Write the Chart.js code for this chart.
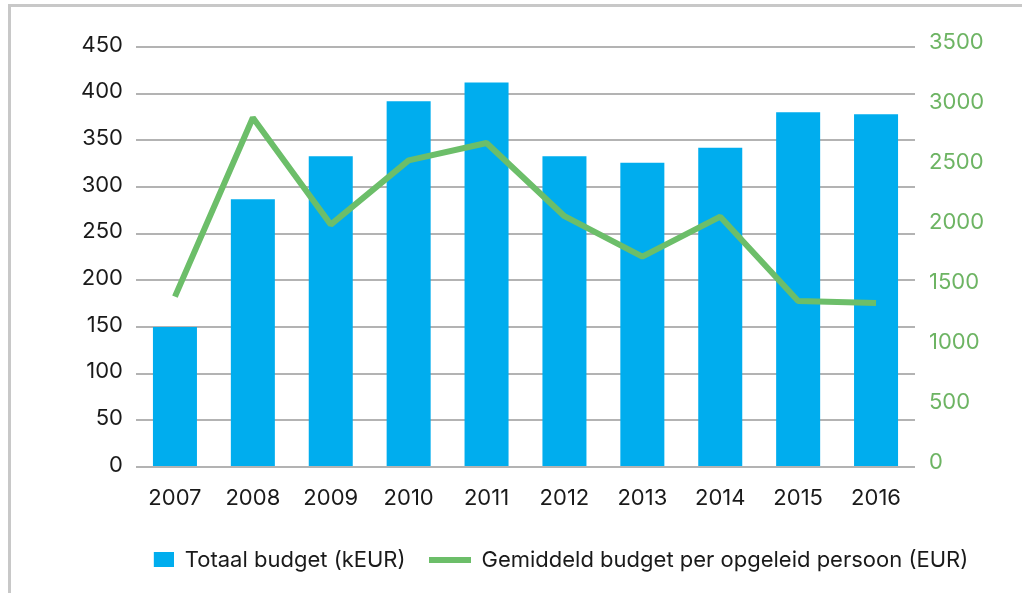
<!DOCTYPE html>
<html lang="nl">
<head>
<meta charset="UTF-8">
<title>Budget opleidingen</title>
<script src="https://cdn.jsdelivr.net/npm/chart.js"></script>
<style>
  html, body { margin: 0; padding: 0; background: #fff; }
  #wrap { position: relative; width: 1022px; height: 593px; overflow: hidden; }
  #frame { position: absolute; left: 8px; top: 4px; width: 1100px; height: 700px;
           border-top: 3px solid #c8c8c8; border-left: 3px solid #c8c8c8; }
  #chart { position: absolute; left: 0; top: 0; }
</style>
</head>
<body>
<div id="wrap">
  <div id="frame"></div>
  <canvas id="chart" width="1022" height="593"></canvas>
</div>
<script>
// data
var years = ['2007', '2008', '2009', '2010', '2011', '2012', '2013', '2014', '2015', '2016'];
var totaalBudget = [150, 287, 333, 392, 412, 333, 326, 342, 380, 378];          // kEUR, left axis
var budgetPerPersoon = [1420, 2910, 2020, 2555, 2700, 2090, 1753, 2086, 1383, 1367]; // EUR, right axis

var blue = '#00adee';
var green = '#6cbe69';
var greenText = '#6db463';

Chart.defaults.font.family = 'Inter, "Liberation Sans", sans-serif';
Chart.defaults.font.size = 22;

// small images used as legend keys
function keyImage(kind) {
    var c = document.createElement('canvas');
    c.width = 42; c.height = 16;
    var g = c.getContext('2d');
    if (kind === 'box') {
        g.fillStyle = blue;
        g.fillRect(22, 0, 20, 15);
    } else {
        g.fillStyle = green;
        g.fillRect(0, 5, 42, 6);
    }
    return c;
}
var boxKey = keyImage('box');
var lineKey = keyImage('line');

// legend sits a bit right of the middle in the original
var shiftLegend = {
    id: 'shiftLegend',
    beforeDraw: function (c) {
        if (c.legend && !c.legend._shifted) {
            c.legend.left += 39;
            c.legend.right += 39;
            c.legend._shifted = true;
        }
    }
};

var ctx = document.getElementById('chart').getContext('2d');
var chart = new Chart(ctx, {
    type: 'bar',
    data: {
        labels: years,
        datasets: [{
            label: 'Totaal budget (kEUR)',
            data: totaalBudget,
            backgroundColor: blue,
            borderWidth: 0,
            barPercentage: 0.565,
            categoryPercentage: 1,
            yAxisID: 'y',
            order: 1
        }, {
            type: 'line',
            label: 'Gemiddeld budget per opgeleid persoon (EUR)',
            data: budgetPerPersoon,
            borderColor: green,
            backgroundColor: green,
            borderWidth: 6,
            borderJoinStyle: 'bevel',
            pointRadius: 0,
            tension: 0,
            fill: false,
            yAxisID: 'y1',
            order: 0
        }]
    },
    options: {
        responsive: false,
        animation: false,
        layout: { padding: { left: 0, right: 0, top: 47, bottom: 12 } },
        plugins: {
            tooltip: { enabled: false },
            legend: {
                position: 'bottom',
                labels: {
                    color: '#1a1a1a',
                    usePointStyle: true,
                    pointStyleWidth: 42,
                    padding: 23,
                    sort: function (a, b) { return a.datasetIndex - b.datasetIndex; },
                    generateLabels: function (c) {
                        var items = Chart.defaults.plugins.legend.labels.generateLabels(c);
                        items.forEach(function (it) {
                            it.pointStyle = it.datasetIndex === 0 ? boxKey : lineKey;
                        });
                        return items;
                    }
                }
            }
        },
        scales: {
            x: {
                grid: { display: false },
                border: { display: false },
                ticks: { color: '#1a1a1a', padding: 10, maxRotation: 0 },
                afterFit: function (s) { s.height = 59; }
            },
            y: {
                position: 'left',
                min: 0,
                max: 450,
                ticks: { stepSize: 50, color: '#1a1a1a', padding: 13, labelOffset: -2 },
                grid: { color: '#b3b3b3', lineWidth: 2, drawTicks: false },
                border: { display: false },
                afterFit: function (s) { s.width = 136; }
            },
            y1: {
                position: 'right',
                min: 0,
                max: 3500,
                ticks: {
                    stepSize: 500, color: greenText, padding: 14, labelOffset: -5,
                    callback: function (v) { return String(v); }
                },
                grid: { display: false, drawTicks: false },
                border: { display: false },
                afterFit: function (s) { s.width = 107; }
            }
        }
    },
    plugins: [shiftLegend]
});
</script>
</body>
</html>
